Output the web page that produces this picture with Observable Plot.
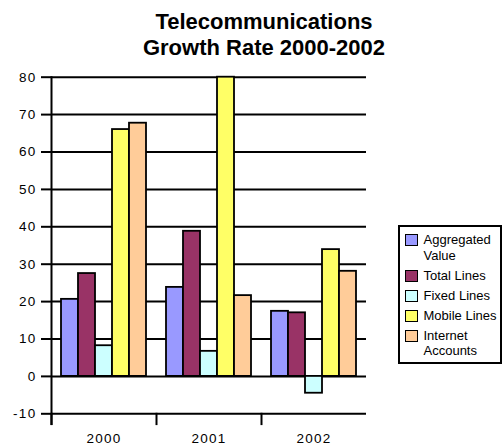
<!DOCTYPE html>
<html>
<head>
<meta charset="utf-8">
<script src="https://cdn.jsdelivr.net/npm/d3@7"></script>
<script src="https://cdn.jsdelivr.net/npm/@observablehq/plot@0.6"></script>
<style>
  body { margin: 0; background: #fff; font-family: "Liberation Sans", Arial, sans-serif; color: #000; }
  #chart { position: relative; width: 503px; height: 446px; }
  .title { position: absolute; left: 64px; top: 9px; width: 400px; text-align: center;
           font-weight: bold; font-size: 22px; line-height: 26px; }
  #plot { position: absolute; left: 0; top: 60px; }
  #plot svg g[aria-label$="tick label"] { letter-spacing: 1.3px; }
  .legend { position: absolute; left: 398px; top: 225px; width: 104px; height: 139px;
            box-sizing: border-box; border: 2px solid #000; padding: 5.4px 0 0 4.5px; background: #fff; }
  .item { display: flex; align-items: flex-start; margin-bottom: 4.5px; }
  .swatch { flex: none; width: 13px; height: 12px; box-sizing: border-box; border: 1.5px solid #000;
            margin: 2px 6px 0 0; }
  .label { white-space: pre-line; font-size: 13px; line-height: 15.5px; }
</style>
</head>
<body>
<div id="chart">
  <div class="title">Telecommunications<br>Growth Rate 2000-2002</div>
  <div id="plot"></div>
  <div class="legend" id="legend"></div>
</div>
<script>
// Growth rates (%) by year for each indicator
const years = ["2000", "2001", "2002"];
const series = ["Aggregated Value", "Total Lines", "Fixed Lines", "Mobile Lines", "Internet Accounts"];
const legendLabels = ["Aggregated\nValue", "Total Lines", "Fixed Lines", "Mobile Lines", "Internet\nAccounts"];
const aggregatedValue = [20.6, 23.8, 17.4];
const totalLines = [27.5, 38.8, 17.0];
const fixedLines = [8.2, 6.7, -4.5];
const mobileLines = [66.0, 80.0, 33.9];
const internetAccounts = [67.7, 21.6, 28.1];
const yTicks = [-10, 0, 10, 20, 30, 40, 50, 60, 70, 80];
const colors = ["#9999FF", "#993366", "#CCFFFF", "#FFFF66", "#FFCC99"];

const seriesValues = [aggregatedValue, totalLines, fixedLines, mobileLines, internetAccounts];
const rows = years.flatMap((year, i) =>
  series.map((s, j) => ({year, series: s, value: seriesValues[j][i]}))
);

const W = 503, H = 386;
const mTop = 16.7, mBottom = 32.7, mLeft = 50, mRight = 136.3;
const innerHeight = H - mTop - mBottom;

const chart = Plot.plot({
  width: W,
  height: H,
  marginTop: mTop,
  marginBottom: mBottom,
  marginLeft: mLeft,
  marginRight: mRight,
  style: {fontFamily: "'Liberation Sans', Arial, sans-serif", fontSize: "13.5px", color: "#000", background: "#fff", overflow: "visible"},
  fx: {domain: years, padding: 0, label: null},
  x: {domain: series, paddingInner: 0, paddingOuter: 0.55, axis: null},
  y: {domain: [-10, 80], label: null},
  color: {domain: series, range: colors},
  marks: [
    // horizontal gridlines (the -10 line doubles as the category axis)
    Plot.ruleY(yTicks, {stroke: "#000", strokeWidth: 2}),
    Plot.barY(rows, {fx: "year", x: "series", y: "value", fill: "series", stroke: "#000", strokeWidth: 1.8}),
    // value axis line, running down into the first category tick
    Plot.frame({anchor: "left", facetAnchor: "left", insetBottom: -10.3, stroke: "#000", strokeWidth: 2}),
    // category boundary ticks below the axis
    Plot.frame({anchor: "left", insetTop: innerHeight, insetBottom: -10.3, stroke: "#000", strokeWidth: 2}),
    Plot.axisY(yTicks, {tickSize: 10, tickPadding: 5, strokeWidth: 2, tickFormat: d => String(d), fontSize: 13.5, label: null}),
    Plot.axisFx({anchor: "bottom", tickSize: 0, tickPadding: 19.5, fontSize: 13.5, label: null})
  ]
});
document.getElementById("plot").appendChild(chart);

// legend box
const legend = d3.select("#legend");
series.forEach((s, i) => {
  const item = legend.append("div").attr("class", "item");
  item.append("div").attr("class", "swatch").style("background", colors[i]);
  item.append("div").attr("class", "label").text(legendLabels[i]);
});
</script>
</body>
</html>
